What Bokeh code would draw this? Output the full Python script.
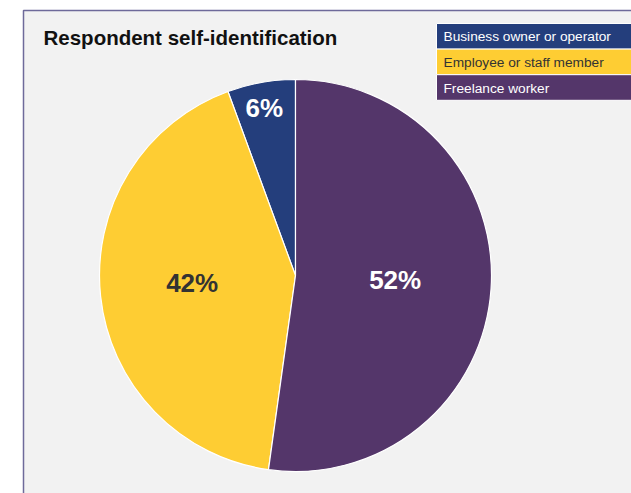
import math
from bokeh.plotting import figure
from bokeh.models import Range1d, ColumnDataSource
from bokeh.core.properties import value
from bokeh.embed import file_html
from bokeh.resources import INLINE

# ---- data ----
categories = ["Business owner or operator", "Employee or staff member", "Freelance worker"]
shares = [5.6, 42.2, 52.2]
colors = ["#243e7c", "#fecd33", "#54366a"]
label_colors = ["#ffffff", "#333333", "#ffffff"]
legend_text_colors = ["#ffffff", "#333333", "#ffffff"]
title = "Respondent self-identification"

W, H = 631, 493
p = figure(width=W, height=H, output_backend="svg", toolbar_location=None,
           x_range=Range1d(0, W), y_range=Range1d(0, H), min_border=0,
           background_fill_color="#ffffff", border_fill_color="#ffffff")
p.outline_line_color = None
p.axis.visible = False
p.grid.visible = False

def px(X):  # page x -> data x
    return X

def py(Y):  # page y -> data y
    return H - Y

# frame
p.quad(left=px(23), right=W + 50, top=py(10), bottom=-50,
       fill_color="#f2f2f2", line_color="#6e6a9a", line_width=1.5)

# title
p.text(x=[px(43)], y=[py(37)], text=[title], text_font=value("Liberation Sans"),
       text_font_style="bold", text_font_size="20.5px", text_color="#111111",
       text_baseline="middle", text_align="left")

# pie
cx, cy, r = px(295), py(275), 196
total = sum(shares)
starts, ends, mids = [], [], []
a = math.pi / 2
for s in shares:
    da = 2 * math.pi * s / total
    starts.append(a)
    ends.append(a + da)
    mids.append(a + da / 2)
    a += da

src = ColumnDataSource(dict(start=starts, end=ends, color=colors,
                            x=[cx] * len(shares), y=[cy] * len(shares)))
p.wedge(x="x", y="y", radius=r, radius_units="screen", start_angle="start",
        end_angle="end", fill_color="color", line_color="#ffffff", line_width=1.2,
        source=src)

lx, ly, lt = [], [], []
for s, m in zip(shares, mids):
    f = 0.85 if s / total < 0.1 else 0.52
    lx.append(cx + f * r * math.cos(m) - 2)
    ly.append(cy + f * r * math.sin(m) + 3)
    lt.append(f"{round(s)}%")
p.text(x=lx, y=ly, text=lt, text_color=label_colors, text_font=value("Liberation Sans"),
       text_font_style="bold", text_font_size="26px", text_align="center",
       text_baseline="middle")

# legend
row_h = 25.6
top0 = 23
lefts, rights, tops, bottoms, tys = [], [], [], [], []
for i in range(len(categories)):
    t = top0 + i * row_h
    lefts.append(px(436))
    rights.append(W + 50)
    tops.append(py(t))
    bottoms.append(py(t + row_h))
    tys.append(py(t + row_h / 2 + 0.5))
p.quad(left=lefts, right=rights, top=tops, bottom=bottoms, fill_color=colors,
       line_color="#ffffff", line_width=1)
p.text(x=[px(443)] * len(categories), y=tys, text=categories,
       text_color=legend_text_colors, text_font=value("Liberation Sans"),
       text_font_size="13.7px", text_align="left", text_baseline="middle")

open("out.html", "w").write(file_html(p, INLINE))
